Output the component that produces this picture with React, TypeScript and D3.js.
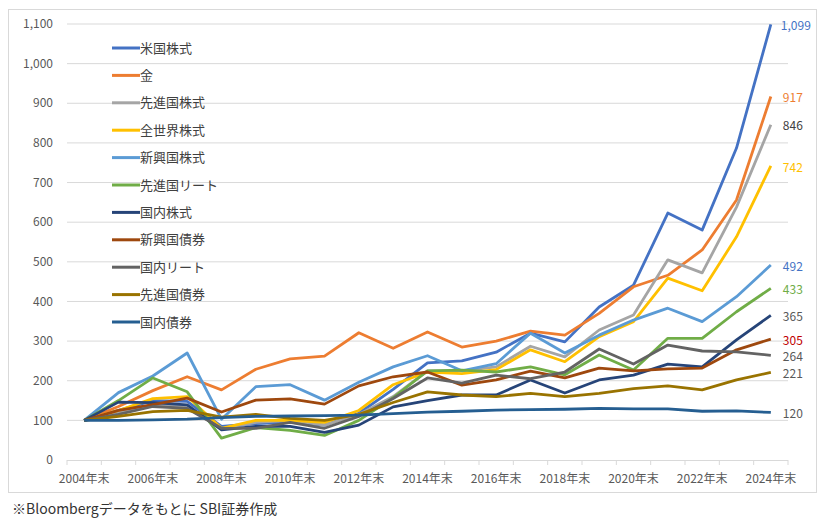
import { scaleBand, scaleLinear, line } from "d3";

const years = Array.from({ length: 21 }, (_, i) => `${2004 + i}年末`);
const yTicks = [0, 100, 200, 300, 400, 500, 600, 700, 800, 900, 1000, 1100];

const usStock = [100, 125, 150, 148, 85, 92, 95, 88, 118, 178, 245, 250, 272, 320, 298, 386, 441, 623, 580, 787, 1099];
const gold = [100, 135, 175, 210, 177, 229, 255, 262, 321, 282, 323, 285, 300, 325, 315, 370, 437, 466, 530, 656, 917];
const devStock = [100, 120, 140, 135, 78, 95, 100, 88, 115, 160, 225, 225, 235, 287, 260, 328, 366, 505, 472, 638, 846];
const worldStock = [100, 125, 155, 160, 80, 100, 100, 95, 125, 190, 222, 218, 228, 278, 248, 311, 349, 459, 427, 563, 742];
const emStock = [100, 170, 212, 270, 103, 185, 190, 151, 196, 235, 263, 225, 243, 320, 270, 315, 353, 383, 349, 412, 492];
const devReit = [100, 150, 207, 172, 55, 82, 75, 62, 100, 157, 225, 227, 222, 235, 215, 265, 227, 307, 307, 374, 433];
const jpStock = [100, 146, 145, 139, 76, 85, 85, 70, 88, 134, 150, 164, 164, 202, 169, 202, 214, 242, 235, 303, 365];
const emBond = [100, 125, 140, 156, 121, 151, 154, 141, 187, 210, 222, 189, 202, 224, 207, 232, 225, 230, 232, 278, 305];
const jpReit = [100, 115, 135, 130, 80, 80, 95, 80, 110, 155, 207, 194, 214, 205, 222, 280, 242, 290, 275, 273, 264];
const devBond = [100, 110, 122, 125, 108, 115, 105, 100, 115, 145, 172, 164, 160, 168, 160, 168, 180, 187, 177, 202, 221];
const jpBond = [100, 100, 101, 103, 107, 110, 111, 112, 113, 117, 121, 123, 126, 127, 128, 130, 129, 129, 123, 124, 120];

const seriesNames = ["米国株式", "金", "先進国株式", "全世界株式", "新興国株式", "先進国リート", "国内株式", "新興国債券", "国内リート", "先進国債券", "国内債券"];
const seriesValues = [usStock, gold, devStock, worldStock, emStock, devReit, jpStock, emBond, jpReit, devBond, jpBond];
const seriesColors = ["#4472C4", "#ED7D31", "#A5A5A5", "#FFC000", "#5B9BD5", "#70AD47", "#264478", "#9E480E", "#636363", "#997300", "#255E91"];
const endLabelColors = ["#4472C4", "#ED7D31", "#404040", "#FFC000", "#4472C4", "#70AD47", "#595959", "#C00000", "#595959", "#595959", "#595959"];

const W = 833;
const H = 522;
const FONT = "'Noto Sans CJK JP', 'Noto Sans', sans-serif";

export default function App() {
    const x = scaleBand<string>().domain(years).range([67, 788]);
    const y = scaleLinear().domain([0, 1100]).range([460, 24]);
    const cx = (i: number) => (x(years[i]) ?? 0) + x.bandwidth() / 2;
    const path = line<number>()
        .x((_, i) => cx(i))
        .y((d) => y(d));

    return (
        <div style={{ position: "absolute", left: 0, top: 0 }}>
            <svg width={W} height={H} style={{ display: "block", background: "#fff" }} fontFamily={FONT}>
                <rect x={8.5} y={9.5} width={808} height={483} fill="#fff" stroke="#d9d9d9" />

                {/* grid + y labels */}
                {yTicks.map((t) => (
                    <g key={t}>
                        {t > 0 && (
                            <line x1={67} x2={788} y1={y(t)} y2={y(t)} stroke="#d9d9d9" strokeWidth={1} />
                        )}
                        <text x={53} y={y(t)} dy="0.35em" textAnchor="end" fontSize={12} fill="#595959">
                            {t.toLocaleString("en-US")}
                        </text>
                    </g>
                ))}

                {/* x axis */}
                <line x1={67} x2={788} y1={460.5} y2={460.5} stroke="#d9d9d9" />
                {[...years.map((yr) => x(yr) ?? 0), 788].map((px, i) => (
                    <line key={i} x1={px} x2={px} y1={460} y2={465} stroke="#d9d9d9" />
                ))}
                {years.map((yr, i) =>
                    i % 2 === 0 ? (
                        <text key={yr} x={cx(i)} y={483} textAnchor="middle" fontSize={12} fill="#595959">
                            {yr}
                        </text>
                    ) : null,
                )}

                {/* series */}
                {seriesValues.map((vals, si) => (
                    <path
                        key={seriesNames[si]}
                        d={path(vals) ?? ""}
                        fill="none"
                        stroke={seriesColors[si]}
                        strokeWidth={2.8}
                        strokeLinejoin="round"
                    />
                ))}

                {/* end labels */}
                {seriesValues.map((vals, si) => {
                    const v = vals[vals.length - 1];
                    return (
                        <text
                            key={si}
                            x={cx(vals.length - 1) + (si === 0 ? 10 : 12)}
                            y={y(v) + 1.5}
                            dy="0.35em"
                            fontSize={12}
                            fill={endLabelColors[si]}
                        >
                            {v.toLocaleString("en-US")}
                        </text>
                    );
                })}

                {/* legend */}
                {seriesNames.map((name, i) => {
                    const ly = 48 + i * 27.4;
                    return (
                        <g key={name}>
                            <line x1={112} x2={140} y1={ly} y2={ly} stroke={seriesColors[i]} strokeWidth={3} />
                            <text x={140} y={ly} dy="0.35em" fontSize={13} fill="#404040">
                                {name}
                            </text>
                        </g>
                    );
                })}

                <text x={12} y={514} fontSize={14} fill="#333">
                    ※Bloombergデータをもとに SBI証券作成
                </text>
            </svg>
        </div>
    );
}
